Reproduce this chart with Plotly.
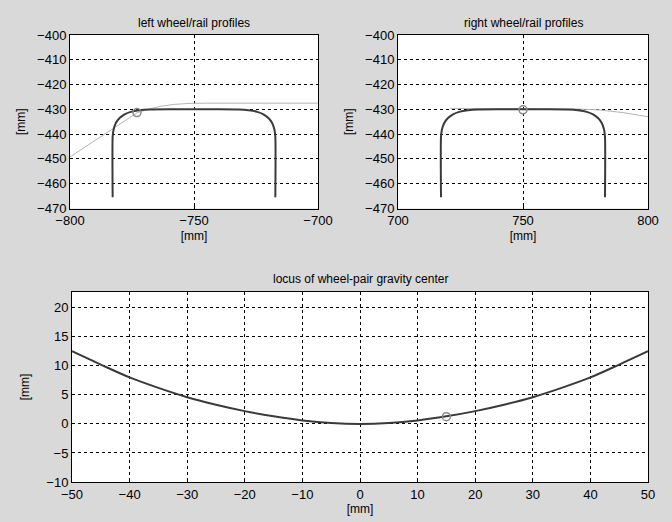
import plotly.graph_objects as go

# ---------------- data ----------------
# rail head profile: lateral offset from rail centre [mm] and height [mm]
rail_offset = [-32.8, -32.8, -32.4, -31.5, -30.0, -28.0, -25.5, -22.0, -18.0, -10.0, 0.0,
               10.0, 18.0, 22.0, 25.5, 28.0, 30.0, 31.5, 32.4, 32.8, 32.8]
rail_height = [-465.5, -441.0, -438.0, -435.5, -433.5, -432.0, -431.0, -430.4, -430.1, -430.0, -430.0,
               -430.0, -430.1, -430.4, -431.0, -432.0, -433.5, -435.5, -438.0, -441.0, -465.5]
left_rail_center = -750.0
right_rail_center = 750.0

# wheel profiles
left_wheel_x = [-800, -790, -780, -773, -768, -763, -758, -752, -745, -700]
left_wheel_y = [-449.2, -442.6, -436.0, -431.4, -429.8, -428.7, -428.0, -427.6, -427.5, -427.5]
right_wheel_x = [721, 730, 740, 750, 760, 770, 780, 790, 800]
right_wheel_y = [-429.6, -429.7, -429.8, -430.0, -429.9, -429.8, -430.2, -431.3, -433.0]

# contact points
left_contact = (-773.0, -431.3)
right_contact = (750.0, -430.2)

# locus of wheel-pair gravity centre
locus_x = [-50, -45, -40, -35, -30, -25, -20, -15, -10, -5, 0, 5, 10, 15, 20, 25, 30, 35, 40, 45, 50]
locus_y = [12.5, 10.2, 8.0, 6.2, 4.6, 3.3, 2.2, 1.3, 0.6, 0.15, 0.0, 0.15, 0.6, 1.3, 2.2, 3.3, 4.6, 6.2, 8.0, 10.2, 12.5]
locus_point = (15.0, 1.25)

top_x_left_ticks = [-800, -750, -700]
top_x_right_ticks = [700, 750, 800]
top_y_ticks = [-400, -410, -420, -430, -440, -450, -460, -470]
bot_x_ticks = list(range(-50, 51, 10))
bot_y_ticks = [-10, -5, 0, 5, 10, 15, 20]

# ---------------- figure ----------------
FONT = "Liberation Sans"
RAIL = "#3a3a3a"
WHEEL = "#b4b4b4"

fig = go.Figure()

def rail_xs(c):
    return [c + o for o in rail_offset]

fig.add_trace(go.Scatter(x=left_wheel_x, y=left_wheel_y, mode="lines",
                         line=dict(color=WHEEL, width=1), xaxis="x", yaxis="y"))
fig.add_trace(go.Scatter(x=rail_xs(left_rail_center), y=rail_height, mode="lines",
                         line=dict(color=RAIL, width=2, shape="spline", smoothing=0.6), xaxis="x", yaxis="y"))
fig.add_trace(go.Scatter(x=[left_contact[0]], y=[left_contact[1]], mode="markers",
                         marker=dict(symbol="circle-open", size=8, color="#8a8a8a", line=dict(width=1.5)),
                         xaxis="x", yaxis="y"))

fig.add_trace(go.Scatter(x=right_wheel_x, y=right_wheel_y, mode="lines",
                         line=dict(color=WHEEL, width=1), xaxis="x2", yaxis="y2"))
fig.add_trace(go.Scatter(x=rail_xs(right_rail_center), y=rail_height, mode="lines",
                         line=dict(color=RAIL, width=2, shape="spline", smoothing=0.6), xaxis="x2", yaxis="y2"))
fig.add_trace(go.Scatter(x=[right_contact[0]], y=[right_contact[1]], mode="markers",
                         marker=dict(symbol="circle-open", size=8, color="#8a8a8a", line=dict(width=1.5)),
                         xaxis="x2", yaxis="y2"))

fig.add_trace(go.Scatter(x=locus_x, y=locus_y, mode="lines",
                         line=dict(color=RAIL, width=2, shape="spline"), xaxis="x3", yaxis="y3"))
fig.add_trace(go.Scatter(x=[locus_point[0]], y=[locus_point[1]], mode="markers",
                         marker=dict(symbol="circle-open", size=8, color="#8a8a8a", line=dict(width=1.5)),
                         xaxis="x3", yaxis="y3"))

axis_common = dict(showgrid=True, gridcolor="black", gridwidth=1, griddash="3px,3px",
                   zeroline=False, showline=True, linecolor="black", linewidth=1, mirror=True,
                   ticks="inside", ticklen=3, tickcolor="black", automargin=False,
                   tickfont=dict(family=FONT, size=13, color="black"),
                   title_font=dict(family=FONT, size=12, color="black"))

W, H = 672, 522
def dx(a, b):
    return [a / W, b / W]
def dy(top, bottom):
    return [1 - bottom / H, 1 - top / H]

fig.update_layout(
    width=W, height=H, margin=dict(l=0, r=0, t=0, b=0),
    paper_bgcolor="#d9d9d9", plot_bgcolor="white", showlegend=False,
    xaxis=dict(axis_common, domain=dx(70, 318), range=[-800, -700], tickvals=top_x_left_ticks,
               title=dict(text="[mm]", standoff=4), anchor="y"),
    yaxis=dict(axis_common, domain=dy(35, 208.5), range=[-470, -400], tickvals=top_y_ticks,
               title=dict(text="[mm]", standoff=8), anchor="x"),
    xaxis2=dict(axis_common, domain=dx(398, 648), range=[700, 800], tickvals=top_x_right_ticks,
                title=dict(text="[mm]", standoff=4), anchor="y2"),
    yaxis2=dict(axis_common, domain=dy(35, 208.5), range=[-470, -400], tickvals=top_y_ticks,
                title=dict(text="[mm]", standoff=8), anchor="x2"),
    xaxis3=dict(axis_common, domain=dx(72, 648), range=[-50, 50], tickvals=bot_x_ticks,
                title=dict(text="[mm]", standoff=4), anchor="y3"),
    yaxis3=dict(axis_common, domain=dy(292, 482), range=[-10, 22.7], tickvals=bot_y_ticks,
                title=dict(text="[mm]", standoff=14), anchor="x3"),
)

titles = [("left wheel/rail profiles", (70 + 318) / 2, 23),
          ("right wheel/rail profiles", (398 + 648) / 2, 23),
          ("locus of wheel-pair gravity center", (72 + 648) / 2, 279)]
for text, cx, cy in titles:
    fig.add_annotation(text=text, x=cx / W, y=1 - cy / H, xref="paper", yref="paper",
                       showarrow=False, xanchor="center", yanchor="middle",
                       font=dict(family=FONT, size=12, color="black"))

fig.write_html("out.html", config={"displayModeBar": False},
               post_script="document.body.style.margin='0';document.body.style.overflow='hidden';")
